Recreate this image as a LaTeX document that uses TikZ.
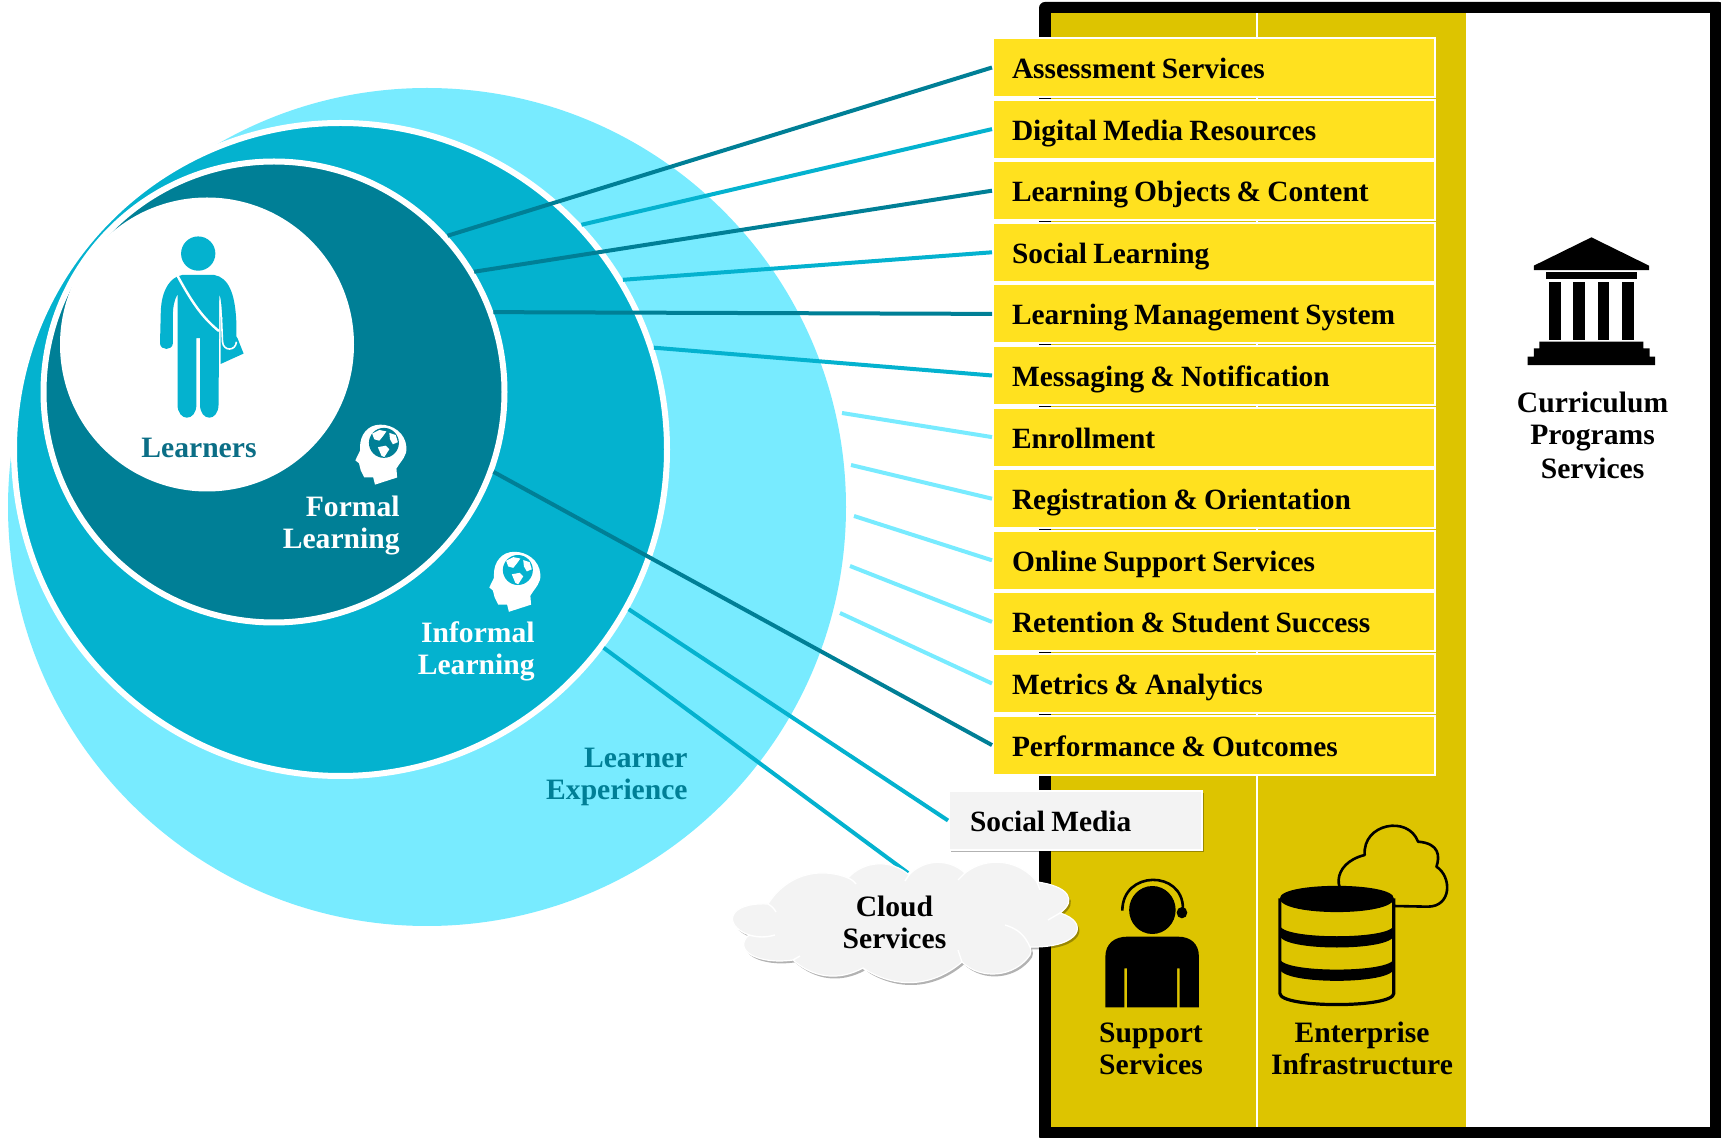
\documentclass[tikz,border=0pt]{standalone}
\usepackage{fontspec}
\setmainfont{Liberation Serif}
\usetikzlibrary{shadows}
\definecolor{cdark}{HTML}{007F96}
\definecolor{cmed}{HTML}{04B2CF}
\definecolor{clight}{HTML}{78EBFF}
\definecolor{cyel}{HTML}{FFE11F}
\definecolor{cdyel}{HTML}{DDC400}
\definecolor{cgrey}{HTML}{F3F3F3}
\definecolor{clbl}{HTML}{0B6E86}
\tikzset{
  lbl/.style={font=\fontsize{14.8}{16}\selectfont\bfseries,align=center,inner sep=0pt},
  ring/.style={circle,inner sep=0pt},
  servicebox/.style={draw=white,line width=1pt,fill=cyel,anchor=north west,minimum height=29.5pt,
    text width=202pt,inner xsep=9.5pt,inner ysep=0pt,align=left,text height=12pt,text depth=1pt,
    font=\fontsize{14.7}{16}\selectfont\bfseries,execute at begin node={\spaceskip=3.1pt\relax}},
  conn/.style={line width=2pt},
  softshadow/.style={drop shadow={shadow xshift=1pt,shadow yshift=-1.2pt,opacity=.3,fill=black}}
}
\newcommand\headicon[4]{%
  \begin{scope}[shift={(#1,#2)}]
    \fill[white] (1050,965) -- (1112,945) -- (1110,920) .. controls (1125,895) and (1140,885) .. (1138,860)
      .. controls (1135,820) and (1100,797) .. (1065,797) .. controls (1030,797) and (1008,825) .. (1008,860)
      -- (1008,870) -- (995,897) -- (1005,905) -- (1010,925) -- (1020,945) -- (1045,945) -- cycle;
    \fill[#3] (1075,848) circle [radius=42];
    \fill[white] (1042,822) -- (1062,812) -- (1082,816) -- (1072,830) -- (1062,842) -- (1048,838) -- cycle;
    \fill[white] (1058,860) -- (1080,856) -- (1090,866) -- (1076,888) -- (1068,884) -- cycle;
    \fill[white] (1090,820) -- (1108,826) -- (1114,846) -- (1100,852) -- (1092,838) -- cycle;
  \end{scope}}
\begin{document}
\begin{tikzpicture}[x=0.5pt,y=-0.5pt]
\useasboundingbox (0,0) rectangle (1721,1138);
% frame and columns
\fill[black,rounded corners=3pt] (1039,2) rectangle (1725,1142);
\fill[white] (1051,13) rectangle (1710,1127);
\fill[cdyel] (1051,13) rectangle (1466,1127);
\fill[white] (1255.7,13) rectangle (1258.3,1127);
% circles
\node[ring,fill=clight,minimum size=419pt] (experience) at (427,507) {};
\node[ring,fill=cmed,draw=white,line width=3pt,minimum size=326.5pt] (informal) at (340.5,449.5) {};
\node[ring,fill=cdark,draw=white,line width=3pt,minimum size=230.5pt] (formal) at (274,392) {};
\node[ring,fill=white,minimum size=147pt] (learners) at (207,344.5) {};
% service boxes
\foreach \n/\t [count=\i from 0] in {b1/Assessment Services,b2/Digital Media Resources,b3/Learning Objects \& Content,
  b4/Social Learning,b5/Learning Management System,b6/Messaging \& Notification,b7/Enrollment,
  b8/Registration \& Orientation,b9/Online Support Services,b10/Retention \& Student Success,
  b11/Metrics \& Analytics,b12/Performance \& Outcomes}
  \node[servicebox] (\n) at (992,37+61.6*\i) {\t};
% free ends
\coordinate (e7) at (842,413);
\coordinate (e8) at (851,465);
\coordinate (e9) at (854,516);
\coordinate (e10) at (850,566);
\coordinate (e11) at (840,613);
\coordinate (cloudtop) at (908,873);
% connectors
\draw[conn,cdark] (formal.42.2) -- (b1.west);
\draw[conn,cmed] (informal.43.8) -- (b2.west);
\draw[conn,cdark] (formal.31.6) -- (b3.west);
\draw[conn,cmed] (informal.31.6) -- (b4.west);
\draw[conn,cdark] (formal.20.3) -- (b5.west);
\draw[conn,cmed] (informal.18.4) -- (b6.west);
\draw[conn,clight] (e7) -- (b7.west);
\draw[conn,clight] (e8) -- (b8.west);
\draw[conn,clight] (e9) -- (b9.west);
\draw[conn,clight] (e10) -- (b10.west);
\draw[conn,clight] (e11) -- (b11.west);
\draw[conn,cdark] (formal.-20.5) -- (b12.west);
% social media
\node[draw=white,line width=1pt,fill=cgrey,softshadow,anchor=north west,minimum height=29.5pt,
  text width=105.5pt,inner xsep=10.5pt,inner ysep=0pt,align=left,text height=12pt,text depth=1pt,
  font=\fontsize{14.7}{16}\selectfont\bfseries,execute at begin node={\spaceskip=3.1pt\relax}] (social) at (948,790) {Social Media};
\draw[conn,cmed] (informal.-29) -- (social.west);
\draw[conn,cmed] (informal.-37.3) -- (cloudtop);
% cloud
\filldraw[draw=white,line width=.6pt,fill=cgrey,softshadow] (768,904)
  to[bend left=40] (848,878) to[bend left=45] (909,875) to[bend left=45] (965,873) to[bend left=45] (1037,882)
  .. controls (1068,886) and (1078,900) .. (1060,913)
  .. controls (1090,922) and (1082,948) .. (1030,947)
  to[bend left=25] (1030,955)
  to[bend left=50] (962,962) to[bend left=37] (863,968) to[bend left=35] (793,960)
  .. controls (758,965) and (732,950) .. (749,935)
  .. controls (722,925) and (728,902) .. (768,904) -- cycle;
\draw[white,line width=.7pt] (768,904) to[bend left=15] (776,912)
  (848,878) to[bend left=15] (856,884) (909,875) -- (905,881) (965,873) -- (958,880)
  (1037,882) -- (1040,890) (1060,913) -- (1048,920) (1030,947) to[bend right=25] (1005,925)
  (962,962) -- (958,950) (863,968) -- (870,975) (793,960) -- (800,956) (749,935) to[bend right=15] (775,935);
% labels
\node[lbl,text=clbl] (tlearners) at (199,448) {Learners};
\node[lbl,text=white,align=right,anchor=east] (tformal) at (400,526) {Formal\\Learning};
\node[lbl,text=white,align=right,anchor=east] (tinformal) at (535,651) {Informal\\Learning};
\node[lbl,text=cdark,align=right,anchor=east] (texperience) at (688,777) {Learner\\Experience};
\node[lbl] (tcloud) at (894.5,922) {Cloud\\Services};
\node[lbl] (tsupport) at (1151,1049) {Support\\Services};
\node[lbl] (tenterprise) at (1362,1048) {Enterprise\\Infrastructure};
\node[lbl] (tcurriculum) at (1592.6,435.5) {Curriculum\\Programs\\[1.2pt]Services};
% learner figure
\begin{scope}[shift={(0,140)},x=0.17857pt,y=-0.17857pt]
  \fill[cmed] (555,318) circle [radius=48];
  \fill[cmed] (618,495) -- (618,627) -- (682,598) -- (665,555) -- cycle;
  \fill[cmed] (510,378) -- (600,378) .. controls (640,385) and (660,430) .. (662,520) -- (662,570)
    .. controls (660,590) and (628,590) .. (625,570) -- (622,490) .. controls (620,460) and (618,440) .. (614,432)
    -- (612,740) .. controls (612,790) and (560,790) .. (560,740) -- (560,555) -- (550,555) -- (550,740)
    .. controls (550,790) and (497,790) .. (497,740) -- (497,432) .. controls (487,450) and (484,470) .. (484,490)
    -- (484,570) .. controls (482,590) and (450,590) .. (448,570) -- (450,490)
    .. controls (450,430) and (470,395) .. (495,383) -- cycle;
  \draw[white,line width=1.2pt] (497,380) .. controls (540,460) and (570,500) .. (613,535);
  \draw[white,line width=.8pt] (620,495) -- (623,565) .. controls (625,592) and (660,592) .. (662,565);
  \headicon{0}{0}{cdark}{}
  \headicon{375}{356}{cmed}{}
\end{scope}
% temple
\begin{scope}[shift={(980,0)},x=0.23607pt,y=-0.16667pt]
  \fill (1295,712) -- (1417,797) -- (1417,810) -- (1173,810) -- (1173,797) -- cycle;
  \fill (1198,815) rectangle (1392,838);
  \foreach \c in {1205,1257,1308,1360} \fill (\c,845) rectangle (\c+25,1020);
  \fill (1185,1025) -- (1405,1025) -- (1405,1045) -- (1418,1045) -- (1418,1070) -- (1430,1070) -- (1430,1095)
    -- (1160,1095) -- (1160,1070) -- (1173,1070) -- (1173,1045) -- (1185,1045) -- cycle;
\end{scope}
% support person, database, cloud icon
\begin{scope}[shift={(720,760)},x=0.24237pt,y=-0.16667pt]
  \fill (892,450) circle [x radius=48,y radius=72];
  \draw[line width=1.3pt] (830,452) .. controls (830,330) and (955,330) .. (955,445);
  \fill (953,458) circle [x radius=11,y radius=17];
  \fill (795,742) -- (795,590) .. controls (795,550) and (815,530) .. (840,530) -- (945,530)
    .. controls (970,530) and (988,550) .. (988,590) -- (988,742) -- (948,742) -- (948,625) -- (943,625) -- (943,742)
    -- (840,742) -- (840,625) -- (834,625) -- (834,742) -- cycle;
  % cloud outline
  \draw[line width=1.3pt,line join=round] (1320,430) .. controls (1260,410) and (1260,310) .. (1330,285)
    .. controls (1325,190) and (1420,165) .. (1440,245) .. controls (1485,250) and (1485,290) .. (1478,320)
    .. controls (1510,350) and (1510,440) .. (1460,440) -- (1390,438);
  % database
  \draw[line width=1.6pt] (1155,415) -- (1155,700) .. controls (1155,745) and (1390,745) .. (1390,700) -- (1390,415);
  \fill (1155,415) .. controls (1155,365) and (1390,365) .. (1390,415) .. controls (1390,470) and (1155,470) .. (1155,415) -- cycle;
  \fill (1155,495) .. controls (1155,540) and (1390,540) .. (1390,495) -- (1390,525) .. controls (1390,575) and (1155,575) .. (1155,525) -- cycle;
  \fill (1155,595) .. controls (1155,640) and (1390,640) .. (1390,595) -- (1390,625) .. controls (1390,675) and (1155,675) .. (1155,625) -- cycle;
\end{scope}
\end{tikzpicture}
\end{document}
